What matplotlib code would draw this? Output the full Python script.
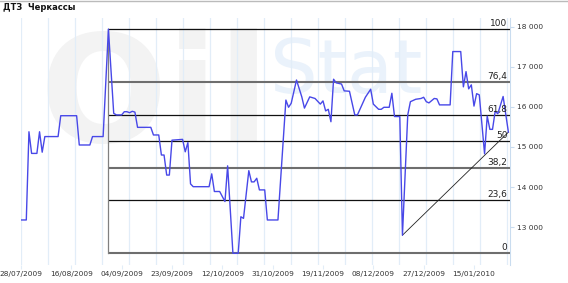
import numpy as np
import pandas as pd
import matplotlib
matplotlib.use('Agg')
import matplotlib.pyplot as plt
import matplotlib.dates as mdates

# Diesel (ДТЗ) price, Cherkasy; days counted from the first date
start = pd.Timestamp('2009-07-28')
day = [0, 2, 3, 4, 6, 7, 8, 9, 14, 15,
       21, 22, 26, 27, 31, 33, 35, 36, 38, 39,
       40, 41, 42, 43, 44, 49, 50, 52, 53, 54,
       55, 56, 57, 61, 62, 63, 64, 65, 71, 72,
       73, 75, 77, 78, 80, 82, 83, 84, 86, 87,
       88, 89, 90, 92, 93, 97, 100, 101, 102, 104,
       106, 107, 109, 111, 113, 114, 115, 116, 117, 118,
       119, 121, 122, 124, 126, 127, 130, 132, 133, 135,
       136, 137, 139, 140, 141, 143, 144, 146, 147, 149,
       151, 152, 153, 154, 156, 157, 158, 162, 163, 166,
       167, 168, 169, 170, 171, 172, 173, 175, 176, 177,
       178, 179, 180, 182, 184]
price = [13180, 13180, 15380, 14840, 14840, 15380, 14870, 15260, 15260, 15780,
         15780, 15050, 15050, 15260, 15260, 17940, 15840, 15800, 15800, 15880,
         15880, 15855, 15890, 15870, 15490, 15490, 15300, 15300, 14800, 14800,
         14300, 14300, 15170, 15190, 14880, 15110, 14080, 14010, 14010, 14330,
         13890, 13890, 13640, 14530, 12350, 12350, 13260, 13220, 14410, 14130,
         14130, 14220, 13930, 13930, 13180, 13180, 16170, 15990, 16090, 16670,
         16250, 15970, 16250, 16210, 16070, 16150, 15900, 15940, 15630, 16690,
         16600, 16570, 16400, 16390, 15800, 15800, 16240, 16440, 16070, 15940,
         15940, 15990, 15990, 16340, 15760, 15760, 12800, 15800, 16130, 16190,
         16210, 16240, 16130, 16100, 16210, 16200, 16050, 16050, 17380, 17380,
         16500, 16880, 16450, 16550, 16020, 16330, 16300, 14830, 15770, 15440,
         15440, 15890, 15830, 16260, 15370]

fib_levels = [100, 76.4, 61.8, 50, 38.2, 23.6, 0]
fib_labels = ['100', '76,4', '61,8', '50', '38,2', '23,6', '0']
fib_gray = [False, True, False, False, True, False, True]
trend_start_day = 144

ytick_vals = [13000, 14000, 15000, 16000, 17000, 18000]
xtick_step = 19      # days between date labels
grid_step = 10.19    # days between vertical grid lines

x0 = mdates.date2num(start)
xs = x0 + np.array(day, dtype=float)
price = np.array(price)

fig = plt.figure(figsize=(5.68, 2.83), dpi=100)
ax = fig.add_axes([21 / 568, 1 - 265 / 283, 489 / 568, 247 / 283])
ax.patch.set_alpha(0)

# faint watermark, behind everything
fig.text(0.07, 0.5, 'Oil', fontsize=108, fontweight='bold', color='#f3f3f3',
         zorder=-5)
fig.text(0.475, 0.67, 'Stat', fontsize=54, color='#eaf2fb', zorder=-5)

x_end = x0 + 184.6
ax.set_xlim(x0, x_end)
ax.set_ylim(12057, 18217)

for g in np.arange(0, 184, grid_step):
    ax.axvline(x0 + g, color='#e2edf8', lw=0.9, zorder=1)

ax.plot(xs, price, color='#4848e8', lw=1.0, zorder=4)

# fibonacci retracement between the high and the low
hi, lo = price.max(), price.min()
hi_x = xs[int(np.argmax(price))]
for lev, lab, gray in zip(fib_levels, fib_labels, fib_gray):
    yv = lo + (hi - lo) * lev / 100
    ax.plot([hi_x, x_end], [yv, yv],
            color='#6e6e6e' if gray else '#111111',
            lw=1.5 if gray else 0.9, zorder=3, solid_capstyle='butt')
    ax.text(x_end - 1, yv + 25, lab, ha='right', va='bottom', fontsize=6.5,
            color='#222222', zorder=5)
ax.plot([hi_x, hi_x], [lo, hi], color='#808080', lw=0.9, zorder=3)

# trend line from the late low to the last point
i0 = day.index(trend_start_day)
ax.plot([xs[i0], xs[-1]], [price[i0], price[-1]], color='#222222',
        lw=0.6, zorder=3)

# axes styling
for s in ['top', 'left', 'bottom']:
    ax.spines[s].set_visible(False)
ax.spines['right'].set_color('#c9dcef')
ax.yaxis.tick_right()
ax.set_yticks(ytick_vals)
ax.set_yticklabels([f'{v:,}'.replace(',', ' ') for v in ytick_vals])
ax.tick_params(axis='y', length=3, color='#c9dcef', labelsize=5.3,
               labelcolor='#333333', pad=2)

ax.set_xticks([x0 + k for k in range(0, 185, xtick_step)])
ax.xaxis.set_major_formatter(mdates.DateFormatter('%d/%m/%Y'))
ax.tick_params(axis='x', length=3, color='#e2edf8', labelsize=5.3,
               labelcolor='#333333', pad=1)

fig.text(3 / 568, 1 - 8 / 283, 'ДТЗ  Черкассы', fontsize=6, fontweight='bold',
         va='center', ha='left', color='#111111')
fig.add_artist(plt.Line2D([0, 1], [0.998, 0.998], color='#bbbbbb', lw=1))

fig.savefig('out.png', dpi=100)
